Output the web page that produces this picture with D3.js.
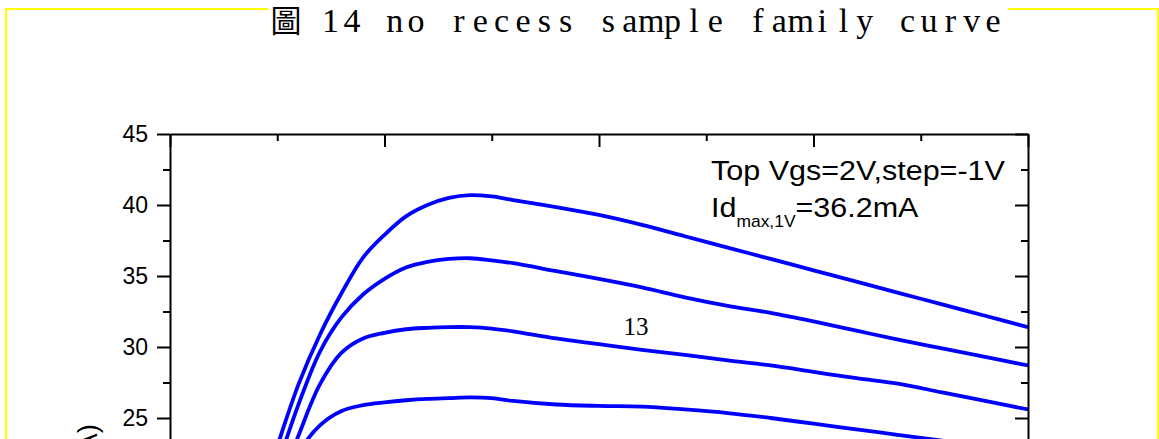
<!DOCTYPE html>
<html>
<head>
<meta charset="utf-8">
<script src="https://cdn.jsdelivr.net/npm/d3@7"></script>
<style>
  html, body { margin: 0; padding: 0; background: #fff; overflow: hidden; }
  svg { display: block; }
</style>
</head>
<body>
<svg id="chart" width="1159" height="439"></svg>
<script>
// ---- text ----
const titleText = "圖 14 no recess sample family curve";
const yAxisTitle = "Id (mA)";
const noteLine1 = "Top Vgs=2V,step=-1V";
const noteLine2Main = "Id";
const noteLine2Sub = "max,1V";
const noteLine2Rest = "=36.2mA";
const markerText = "13";

// ---- data: drain current (mA) versus drain voltage (V), one array per gate bias ----
const gateBiases = [2, 1, 0, -1];
const vds = [0, 1, 2, 2.5, 3, 3.5, 4, 4.5, 5, 5.5, 6, 6.5, 7, 7.5, 8, 9, 10, 11, 12, 13, 14, 15, 16, 17, 18, 19, 20];
const idVgs2  = [0, 9.0, 18.2, 23.0, 27.4, 30.9, 33.8, 36.3, 37.9, 39.2, 40.0, 40.5, 40.7, 40.6, 40.35, 39.85, 39.3, 38.6, 37.8, 37.0, 36.2, 35.4, 34.6, 33.8, 33.0, 32.2, 31.4];
const idVgs1  = [0, 8.6, 17.2, 21.6, 26.0, 29.7, 32.1, 33.7, 34.8, 35.6, 36.0, 36.2, 36.25, 36.1, 35.9, 35.35, 34.8, 34.2, 33.5, 32.9, 32.4, 31.8, 31.15, 30.5, 29.9, 29.3, 28.7];
const idVgs0  = [0, 8.0, 16.0, 19.8, 23.8, 27.4, 29.6, 30.6, 31.0, 31.25, 31.35, 31.4, 31.4, 31.3, 31.1, 30.6, 30.2, 29.8, 29.45, 29.05, 28.7, 28.25, 27.8, 27.4, 26.8, 26.2, 25.6];
const idVgsM1 = [0, 7.9, 15.8, 19.6, 22.6, 24.5, 25.5, 25.9, 26.1, 26.25, 26.35, 26.4, 26.45, 26.4, 26.2, 25.95, 25.85, 25.8, 25.6, 25.35, 25.0, 24.6, 24.2, 23.8, 23.4, 23.0, 22.6];
const seriesList = [idVgs2, idVgs1, idVgs0, idVgsM1];

// ---- ticks ----
const xMajorTicks = [0, 5, 10, 15, 20];
const xMinorTicks = [2.5, 7.5, 12.5, 17.5];
const yMajorTicks = [0, 5, 10, 15, 20, 25, 30, 35, 40, 45];
const yMinorTicks = [2.5, 7.5, 12.5, 17.5, 22.5, 27.5, 32.5, 37.5, 42.5];
const yTickLabels = ["25", "30", "35", "40", "45"];

// ---- layout ----
const plot = { left: 170, right: 1028, top: 134, bottom: 773 };
const svg = d3.select("#chart");

const x = d3.scaleLinear().domain([0, 20]).range([plot.left, plot.right]);
const y = d3.scaleLinear().domain([0, 45]).range([plot.bottom, plot.top]);

svg.append("rect").attr("width", 1159).attr("height", 439).attr("fill", "#fff");

// page frame
svg.append("rect")
  .attr("x", 6).attr("y", 9).attr("width", 1152).attr("height", 900)
  .attr("fill", "none").attr("stroke", "#ffff00").attr("stroke-width", 2);

// title, on a white strip over the frame, laid out on a fixed character grid
svg.append("rect").attr("x", 268).attr("y", 0).attr("width", 740).attr("height", 38).attr("fill", "#fff");
{
  const chars = Array.from(titleText);
  const pos = chars.map((c, i) => i === 0 ? 286 : (i === 1 ? 309 : 330.6 + (i - 2) * 21.37));
  const t = svg.append("text")
    .attr("y", 32)
    .attr("text-anchor", "middle")
    .style("white-space", "pre")
    .attr("fill", "#000");
  t.append("tspan")
    .attr("x", pos[0])
    .attr("font-family", "'Noto Sans CJK TC', sans-serif")
    .attr("font-size", 31)
    .text(chars[0]);
  t.append("tspan")
    .attr("x", pos.slice(1).map(p => p.toFixed(2)).join(" "))
    .attr("font-family", "'Liberation Serif', serif")
    .attr("font-size", 34)
    .text(chars.slice(1).join(""));
}

// curves
const clipId = "plot-clip";
svg.append("clipPath").attr("id", clipId)
  .append("rect").attr("x", plot.left).attr("y", plot.top)
  .attr("width", plot.right - plot.left).attr("height", plot.bottom - plot.top);

const line = d3.line()
  .x((d, i) => x(vds[i]))
  .y(d => y(d))
  .curve(d3.curveCatmullRom.alpha(0.5));

svg.append("g").attr("clip-path", `url(#${clipId})`)
  .selectAll("path").data(seriesList).join("path")
  .attr("d", line)
  .attr("fill", "none")
  .attr("stroke", "#0000ff")
  .attr("stroke-width", 3.8)
  .attr("stroke-linejoin", "round");

// axes
function styleAxis(g) {
  g.selectAll("path, line").attr("stroke", "#000").attr("stroke-width", 2);
  g.selectAll("text").attr("font-family", "'Liberation Sans', Arial, sans-serif").attr("font-size", 23).attr("fill", "#000");
}
const noLabel = () => "";
const yLabelFormat = d => yTickLabels.includes(String(d)) ? String(d) : "";

// left: outward ticks with labels
svg.append("g").attr("transform", `translate(${plot.left},0)`)
  .call(d3.axisLeft(y).tickValues(yMajorTicks).tickSize(13).tickSizeOuter(0).tickPadding(9).tickFormat(yLabelFormat))
  .call(styleAxis);
svg.append("g").attr("transform", `translate(${plot.left},0)`)
  .call(d3.axisLeft(y).tickValues(yMinorTicks).tickSize(7).tickSizeOuter(0).tickFormat(noLabel))
  .call(g => g.select(".domain").remove())
  .call(styleAxis);

// right: inward ticks
svg.append("g").attr("transform", `translate(${plot.right},0)`)
  .call(d3.axisLeft(y).tickValues(yMajorTicks).tickSize(13).tickSizeOuter(0).tickFormat(noLabel))
  .call(styleAxis);
svg.append("g").attr("transform", `translate(${plot.right},0)`)
  .call(d3.axisLeft(y).tickValues(yMinorTicks).tickSize(7).tickSizeOuter(0).tickFormat(noLabel))
  .call(g => g.select(".domain").remove())
  .call(styleAxis);

// top: inward ticks
svg.append("g").attr("transform", `translate(0,${plot.top})`)
  .call(d3.axisBottom(x).tickValues(xMajorTicks).tickSize(13).tickSizeOuter(0).tickFormat(noLabel))
  .call(styleAxis);
svg.append("g").attr("transform", `translate(0,${plot.top})`)
  .call(d3.axisBottom(x).tickValues(xMinorTicks).tickSize(7).tickSizeOuter(0).tickFormat(noLabel))
  .call(g => g.select(".domain").remove())
  .call(styleAxis);

// bottom: outward ticks
svg.append("g").attr("transform", `translate(0,${plot.bottom})`)
  .call(d3.axisBottom(x).tickValues(xMajorTicks).tickSize(13).tickSizeOuter(0).tickFormat(noLabel))
  .call(styleAxis);
svg.append("g").attr("transform", `translate(0,${plot.bottom})`)
  .call(d3.axisBottom(x).tickValues(xMinorTicks).tickSize(7).tickSizeOuter(0).tickFormat(noLabel))
  .call(g => g.select(".domain").remove())
  .call(styleAxis);

// y axis title
svg.append("text")
  .attr("transform", "translate(97,424) rotate(-90)")
  .attr("text-anchor", "end")
  .attr("font-family", "'Liberation Sans', Arial, sans-serif")
  .attr("font-size", 28)
  .attr("fill", "#000")
  .text(yAxisTitle);

// bias note
const noteFont = "'Liberation Sans', Arial, sans-serif";
svg.append("text")
  .attr("transform", "translate(711,179.5) scale(1.09,1)")
  .attr("font-family", noteFont).attr("font-size", 28).attr("fill", "#000")
  .text(noteLine1);
const note2 = svg.append("text")
  .attr("transform", "translate(711,217) scale(1.09,1)")
  .attr("font-family", noteFont).attr("font-size", 28).attr("fill", "#000");
note2.append("tspan").text(noteLine2Main);
note2.append("tspan").attr("font-size", 16).attr("dy", 10).text(noteLine2Sub);
note2.append("tspan").attr("dy", -10).text(noteLine2Rest);

// marker
svg.append("text")
  .attr("x", 636).attr("y", 335)
  .attr("text-anchor", "middle")
  .attr("font-family", "'Liberation Serif', 'Times New Roman', serif")
  .attr("font-size", 25).attr("fill", "#000")
  .text(markerText);
</script>
</body>
</html>
